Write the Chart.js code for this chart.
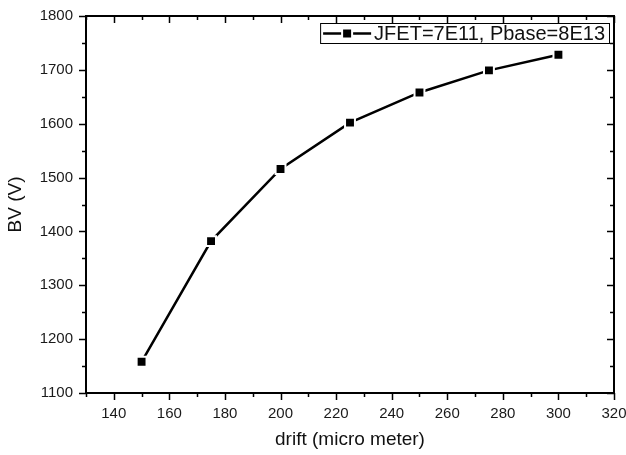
<!DOCTYPE html>
<html lang="en">
<head>
<meta charset="UTF-8">
<title>BV vs drift</title>
<script src="https://cdn.jsdelivr.net/npm/chart.js"></script>
<style>
  html, body { margin: 0; padding: 0; background: #fff; }
  #wrap { width: 626px; height: 455px; }
</style>
</head>
<body>
<div id="wrap"><canvas id="grafico" width="626" height="455"></canvas></div>
<script>
// drift length (micro meter) and breakdown voltage (V)
const drift = [150, 175, 200, 225, 250, 275, 300];
const bv = [1158, 1382, 1516, 1602, 1658, 1699, 1728];
const seriesLabel = 'JFET=7E11, Pbase=8E13';

const xMin = 130, xMax = 320, xMajor = 20, xMinor = 10;
const yMin = 1100, yMax = 1800, yMajor = 100, yMinor = 50;

const FONT = 'Arial, "Liberation Sans", sans-serif';

// frame, ticks (outward on left/bottom, inward on top/right) and legend box
const frame = {
  id: 'frame',
  afterDatasetsDraw(chart) {
    const { ctx, chartArea: a, scales: { x, y } } = chart;
    ctx.save();
    ctx.strokeStyle = '#000';
    ctx.lineWidth = 2;
    ctx.strokeRect(a.left, a.top, a.right - a.left, a.bottom - a.top);

    ctx.lineWidth = 1.5;
    ctx.beginPath();
    for (let v = xMin; v <= xMax; v += xMinor) {
      const px = Math.round(x.getPixelForValue(v)) + 0.5;
      const len = (v % xMajor === 0) ? 7 : 4;
      ctx.moveTo(px, a.bottom); ctx.lineTo(px, a.bottom + len);
      ctx.moveTo(px, a.top); ctx.lineTo(px, a.top + len);
    }
    for (let v = yMin; v <= yMax; v += yMinor) {
      const py = Math.round(y.getPixelForValue(v)) + 0.5;
      const len = (v % yMajor === 0) ? 7 : 4;
      ctx.moveTo(a.left, py); ctx.lineTo(a.left - len, py);
      ctx.moveTo(a.right, py); ctx.lineTo(a.right - len, py);
    }
    ctx.stroke();

    // legend
    ctx.font = '20px ' + FONT;
    const tw = ctx.measureText(seriesLabel).width;
    const boxW = tw + 58, boxH = 20;
    const boxX = a.right - 5 - boxW, boxY = a.top + 7;
    ctx.fillStyle = '#fff';
    ctx.fillRect(boxX, boxY, boxW, boxH);
    ctx.lineWidth = 1;
    ctx.strokeStyle = '#000';
    ctx.strokeRect(boxX + 0.5, boxY + 0.5, boxW, boxH);
    const cy = boxY + boxH / 2 + 0.5;
    ctx.lineWidth = 2.5;
    ctx.beginPath();
    ctx.moveTo(boxX + 3, cy); ctx.lineTo(boxX + 51, cy);
    ctx.stroke();
    ctx.fillStyle = '#000';
    ctx.strokeStyle = '#fff';
    ctx.lineWidth = 2;
    ctx.fillRect(boxX + 22, cy - 5, 10, 10);
    ctx.strokeRect(boxX + 22, cy - 5, 10, 10);
    ctx.fillStyle = '#111';
    ctx.textBaseline = 'middle';
    ctx.fillText(seriesLabel, boxX + 54, cy + 1);
    ctx.restore();
  }
};

new Chart(document.getElementById('grafico'), {
  type: 'scatter',
  data: {
    datasets: [{
      label: seriesLabel,
      data: drift.map((d, i) => ({ x: d, y: bv[i] })),
      showLine: true,
      borderColor: '#000',
      borderWidth: 2.5,
      pointStyle: 'rect',
      pointRadius: 7,
      pointBackgroundColor: '#000',
      pointBorderColor: '#fff',
      pointBorderWidth: 2
    }]
  },
  options: {
    responsive: false,
    animation: false,
    layout: { padding: { top: 16, right: 0, left: 0, bottom: 0 } },
    plugins: { legend: { display: false }, tooltip: { enabled: false } },
    scales: {
      x: {
        type: 'linear',
        min: xMin, max: xMax,
        grid: { display: false, drawTicks: false },
        border: { display: false },
        afterBuildTicks(scale) {
          const t = [];
          for (let v = 140; v <= xMax; v += xMajor) t.push({ value: v });
          scale.ticks = t;
        },
        ticks: { color: '#1a1a1a', font: { family: FONT, size: 15 }, padding: 12, maxRotation: 0, autoSkip: false,
          callback: v => String(v) },
        title: { display: true, text: 'drift (micro meter)', color: '#111', font: { family: FONT, size: 19 }, padding: { top: 2 } },
        afterFit(scale) {
          scale.height = 62;
          scale.paddingLeft = 0;
          scale.paddingRight = 12;
        }
      },
      y: {
        min: yMin, max: yMax,
        grid: { display: false, drawTicks: false },
        border: { display: false },
        ticks: { stepSize: yMajor, color: '#1a1a1a', font: { family: FONT, size: 15 }, padding: 13,
          callback: v => String(v) },
        title: { display: true, text: 'BV (V)', color: '#111', font: { family: FONT, size: 19 }, padding: { bottom: 0 } },
        afterFit(scale) {
          scale.width = 86;
          scale.paddingTop = 0;
          scale.paddingBottom = 0;
        }
      }
    }
  },
  plugins: [frame]
});
</script>
</body>
</html>
